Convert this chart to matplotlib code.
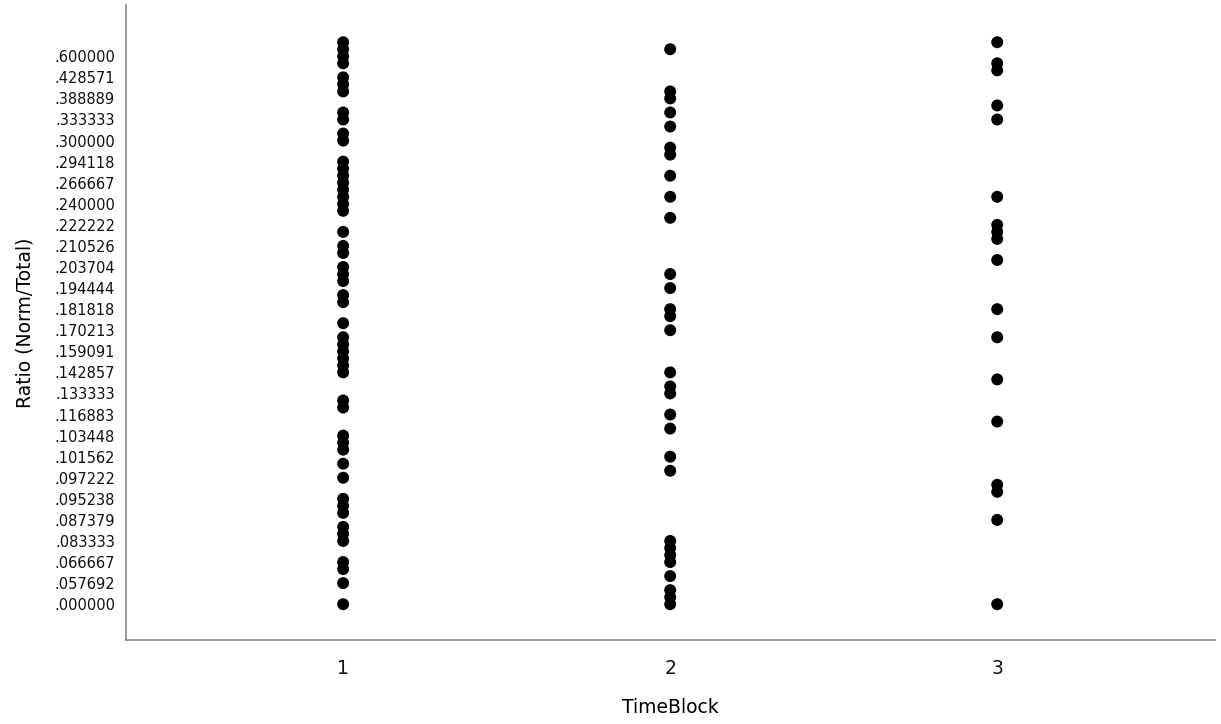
import matplotlib.pyplot as plt

# every distinct ratio value, in ascending order (SPSS puts each one on its own row)
ratio_levels = [
    0.000000, 0.050000, 0.055556, 0.057692, 0.062500, 0.064516, 0.066667, 0.071429,
    0.076923, 0.083333, 0.085714, 0.086957, 0.087379, 0.090909, 0.093750, 0.095238,
    0.096154, 0.096774, 0.097222, 0.100000, 0.101010, 0.101562, 0.102564, 0.103093,
    0.103448, 0.107143, 0.111111, 0.116883, 0.120000, 0.125000, 0.133333, 0.137931,
    0.140000, 0.142857, 0.147059, 0.153846, 0.159091, 0.163265, 0.166667, 0.170213,
    0.173913, 0.176471, 0.181818, 0.185185, 0.190476, 0.194444, 0.197368, 0.200000,
    0.203704, 0.206897, 0.208333, 0.210526, 0.214286, 0.217391, 0.222222, 0.227273,
    0.233333, 0.240000, 0.250000, 0.255814, 0.266667, 0.277778, 0.285714, 0.294118,
    0.296296, 0.297297, 0.300000, 0.312500, 0.318182, 0.333333, 0.357143, 0.375000,
    0.388889, 0.400000, 0.416667, 0.428571, 0.454545, 0.500000, 0.600000, 0.666667,
    1.000000,
]

time_blocks = [1, 2, 3]

block1 = [1.000000, 0.666667, 0.600000, 0.500000, 0.428571, 0.416667, 0.400000,
          0.357143, 0.333333, 0.312500, 0.300000, 0.294118, 0.285714, 0.277778,
          0.266667, 0.255814, 0.250000, 0.240000, 0.233333, 0.217391, 0.210526,
          0.208333, 0.203704, 0.200000, 0.197368, 0.190476, 0.185185, 0.173913,
          0.166667, 0.163265, 0.159091, 0.153846, 0.147059, 0.142857, 0.125000,
          0.120000, 0.103448, 0.103093, 0.102564, 0.101010, 0.097222, 0.095238,
          0.093750, 0.090909, 0.086957, 0.085714, 0.083333, 0.066667, 0.064516,
          0.057692, 0.000000]
block2 = [0.666667, 0.400000, 0.388889, 0.357143, 0.318182, 0.297297, 0.296296,
          0.277778, 0.250000, 0.227273, 0.200000, 0.194444, 0.181818, 0.176471,
          0.170213, 0.142857, 0.137931, 0.133333, 0.116883, 0.107143, 0.101562,
          0.100000, 0.083333, 0.076923, 0.071429, 0.066667, 0.062500, 0.055556,
          0.050000, 0.000000]
block3 = [1.000000, 0.500000, 0.454545, 0.375000, 0.333333, 0.250000, 0.222222,
          0.217391, 0.214286, 0.206897, 0.181818, 0.166667, 0.140000, 0.111111,
          0.096774, 0.096154, 0.087379, 0.000000]

blocks = [block1, block2, block3]

fig = plt.figure(figsize=(12.21, 7.24), dpi=100)
ax = fig.add_axes([0.1032, 0.1160, 0.8919, 0.8771])

for tb, vals in zip(time_blocks, blocks):
    ys = [ratio_levels.index(v) for v in vals]
    ax.scatter([tb] * len(ys), ys, s=74, color='black', edgecolors='none', zorder=3)

ax.set_xlim(0.336, 3.666)
ax.set_ylim(-5.1, 85.3)
ax.set_xticks(time_blocks)
ax.set_xticklabels([str(t) for t in time_blocks], fontsize=13.5)
shown = list(range(0, len(ratio_levels) - 2, 3))
ax.set_yticks(shown)
ax.set_yticklabels([('%.6f' % ratio_levels[i])[1:] for i in shown], fontsize=10.5)
ax.tick_params(axis='both', length=0, colors='#111111')
ax.tick_params(axis='y', pad=8)
ax.tick_params(axis='x', pad=14)

for side in ['top', 'right']:
    ax.spines[side].set_visible(False)
for side in ['left', 'bottom']:
    ax.spines[side].set_color('#888888')
    ax.spines[side].set_linewidth(1.2)

ax.set_xlabel('TimeBlock', fontsize=13.5, labelpad=14)
ax.set_ylabel('Ratio (Norm/Total)', fontsize=13.5, labelpad=14)

fig.savefig('out.png', dpi=100)
